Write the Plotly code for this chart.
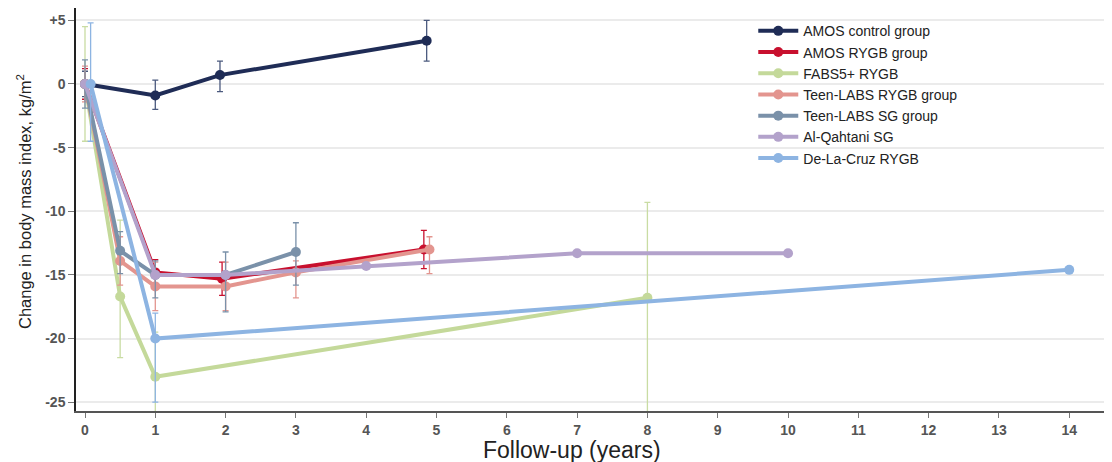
import plotly.graph_objects as go

# ---- data ----
ctrl_x = [0, 1, 1.92, 4.86]
ctrl_y = [0, -0.9, 0.7, 3.4]
ctrl_ep = [1.0, 1.2, 1.1, 1.6]
ctrl_em = [1.0, 1.1, 1.3, 1.6]

rygb_x = [0, 1, 1.95, 4.82]
rygb_y = [0, -14.8, -15.3, -13.0]
rygb_ep = [1.2, 1.0, 1.3, 1.5]
rygb_em = [1.2, 1.0, 1.3, 1.5]

fabs_x = [0, 0.5, 1, 8]
fabs_y = [0, -16.7, -23.0, -16.8]
fabs_ep = [4.5, 6.0, 3.5, 7.5]
fabs_em = [4.5, 4.8, 3.5, 9.2]

tlr_x = [0, 0.5, 1, 2, 3, 4.9]
tlr_y = [0, -13.9, -15.9, -15.9, -14.8, -13.0]
tlr_ep = [1.4, 1.9, 1.9, 1.9, 0.9, 1.0]
tlr_em = [1.4, 1.9, 1.9, 1.9, 2.0, 1.9]

tls_x = [0, 0.5, 1, 2, 3]
tls_y = [0, -13.1, -15.0, -15.0, -13.2]
tls_ep = [1.9, 1.5, 1.1, 1.8, 2.3]
tls_em = [1.9, 1.8, 1.8, 2.9, 2.6]

alq_x = [0, 1, 2, 4, 7, 10]
alq_y = [0, -15.0, -15.0, -14.3, -13.3, -13.3]

dlc_x = [0.08, 1, 14]
dlc_y = [0, -20.0, -14.6]
dlc_ep = [4.8, 2.0, 0]
dlc_em = [4.5, 5.0, 0]

names = ["AMOS control group", "AMOS RYGB group", "FABS5+ RYGB",
         "Teen-LABS RYGB group", "Teen-LABS SG group", "Al-Qahtani SG",
         "De-La-Cruz RYGB"]
colors = ["#1f2c56", "#c8102e", "#c4d99a", "#e3958f", "#7a91a9", "#b3a2cb", "#8db4e2"]
err_colors = ["#4b5a7e", "#c8102e", "#c9dca3", "#e3958f", "#7a91a9", "#b3a2cb", "#8db4e2"]

y_ticks = [5, 0, -5, -10, -15, -20, -25]
y_ticktext = ["+5", "0", "-5", "-10", "-15", "-20", "-25"]
x_ticks = list(range(0, 15))

x_title = "Follow-up (years)"
y_title = "Change in body mass index, kg/m<sup>2</sup>"

series = [
    (ctrl_x, ctrl_y, ctrl_ep, ctrl_em),
    (rygb_x, rygb_y, rygb_ep, rygb_em),
    (fabs_x, fabs_y, fabs_ep, fabs_em),
    (tlr_x, tlr_y, tlr_ep, tlr_em),
    (tls_x, tls_y, tls_ep, tls_em),
    (alq_x, alq_y, None, None),
    (dlc_x, dlc_y, dlc_ep, dlc_em),
]

fig = go.Figure()
for (xs, ys, ep, em), name, c, ec in zip(series, names, colors, err_colors):
    kw = {}
    if ep is not None:
        kw["error_y"] = dict(type="data", symmetric=False, array=ep, arrayminus=em,
                             color=ec, thickness=1.3, width=3)
    fig.add_trace(go.Scatter(
        x=xs, y=ys, name=name, mode="lines+markers",
        line=dict(color=c, width=4),
        marker=dict(color=c, size=10),
        **kw))

fig.update_layout(
    width=1104, height=454,
    margin=dict(l=68, r=2, t=0, b=51),
    paper_bgcolor="white", plot_bgcolor="white",
    font=dict(family="Liberation Sans, Arial, sans-serif", color="#222"),
    showlegend=True,
    legend=dict(x=0.655, y=0.982, xanchor="left", yanchor="top",
                bgcolor="rgba(0,0,0,0)", font=dict(size=14, color="#222"),
                itemwidth=40, tracegroupgap=0),
    annotations=[
        dict(text=x_title, xref="paper", yref="paper", x=0.4797, y=-0.0968,
             xanchor="center", yanchor="middle", showarrow=False,
             font=dict(size=23, color="#222")),
        dict(text=y_title, xref="paper", yref="paper", x=-0.0503, y=0.521,
             xanchor="center", yanchor="middle", showarrow=False, textangle=-90,
             font=dict(size=16.5, color="#222")),
    ],
)
fig.update_xaxes(
    range=[-0.128, 14.58], tickvals=x_ticks, showgrid=False, zeroline=False,
    showline=True, linecolor="#555", linewidth=1.5, automargin=False,
    ticks="outside", ticklen=5, tickcolor="#777",
    tickfont=dict(size=14, color="#555", weight="bold"),
)
fig.update_yaxes(
    range=[-25.69, 5.97], tickvals=y_ticks, ticktext=y_ticktext,
    showgrid=True, gridcolor="#ebebeb", gridwidth=2, zeroline=False,
    showline=True, linecolor="#222", linewidth=1.5, automargin=False,
    ticks="outside", ticklen=6, tickcolor="#777",
    tickfont=dict(size=14, color="#555", weight="bold"),
)

fig.write_html("out.html")
